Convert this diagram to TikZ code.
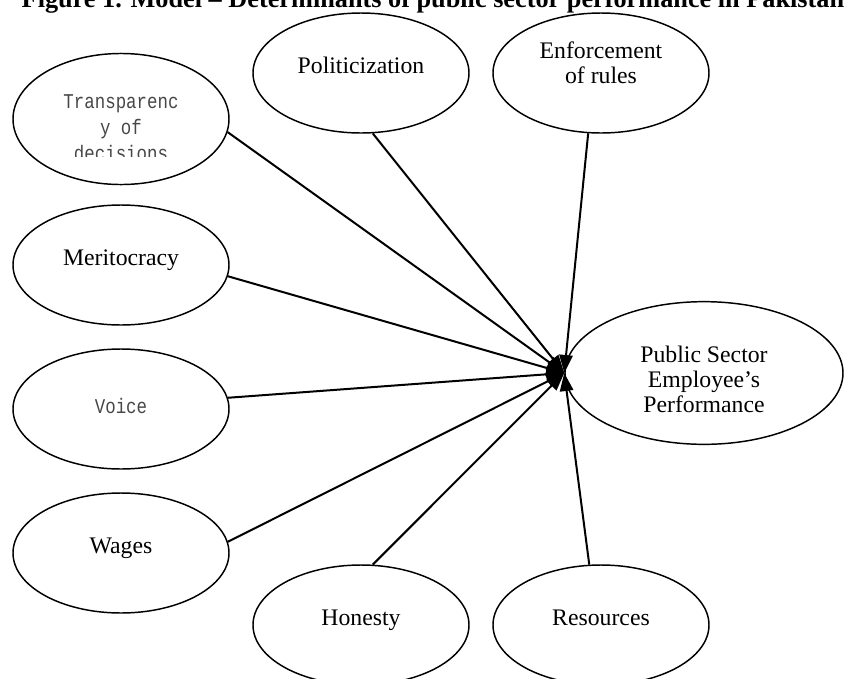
\documentclass[tikz,border=0pt]{standalone}
\usepackage{fontspec}
\setmainfont{Liberation Serif}
\newfontfamily\boxfont{Liberation Mono}[FakeStretch=0.83]
\usetikzlibrary{shapes.geometric,arrows.meta}
\begin{document}
\begin{tikzpicture}[x=0.75pt,y=-0.75pt,
  factor/.style={draw, ellipse, line width=1.1pt, minimum width=162pt, minimum height=90pt,
    inner sep=0pt, align=center, font=\fontsize{17.8}{18.75}\selectfont},
  oneline/.style={text height=12pt, text depth=12pt},
  boxy/.style={font=\fontsize{15.75}{19.5}\selectfont\boxfont, text=black!72},
  link/.style={draw, line width=1.5pt, -{Triangle[length=13.5pt,width=10pt]}}]
\useasboundingbox (0,0) rectangle (844,679);
\node[anchor=base west, font=\fontsize{19.7}{21}\selectfont\bfseries] (title) at (17,7)
  {Figure 1. Model -- Determinants of public sector performance in Pakistan};

\begin{scope}[even odd rule]
\clip (0,0) rectangle (844,679) (70,156) rectangle (172,168);
\node[factor, boxy, minimum height=89pt, text height=65.5pt, text depth=4pt] (trans) at (121,119)
  {Transparenc\\y of\\decisions};
\end{scope}
\node[factor, oneline] (polit) at (361,73) {Politicization};
\node[factor, text height=20pt, text depth=5pt] (enforce) at (601,73) {Enforcement\\of rules};
\node[factor, oneline] (merit) at (121,265) {Meritocracy};
\node[factor, boxy, text height=10pt, text depth=4pt] (voice) at (121,409) {Voice};
\node[factor, oneline] (wages) at (121,553) {Wages};
\node[factor, oneline] (honest) at (361,625) {Honesty};
\node[factor, oneline] (resource) at (601,625) {Resources};
\node[factor, minimum width=208.5pt, minimum height=107pt, text height=63.5pt, text depth=5pt] (psep) at (704,373)
  {Public Sector\\Employee’s\\Performance};

\path[link] (trans.-7) -- (psep.west);
\path[link] (polit.-79) -- (psep.west);
\path[link] (enforce.-102) -- (psep.west);
\path[link] (merit.-6) -- (psep.west);
\path[link] (voice.6) -- (psep.west);
\path[link] (wages.6) -- (psep.west);
\path[link] (honest.79) -- (psep.west);
\path[link] (resource.101) -- (psep.west);
\end{tikzpicture}
\end{document}
